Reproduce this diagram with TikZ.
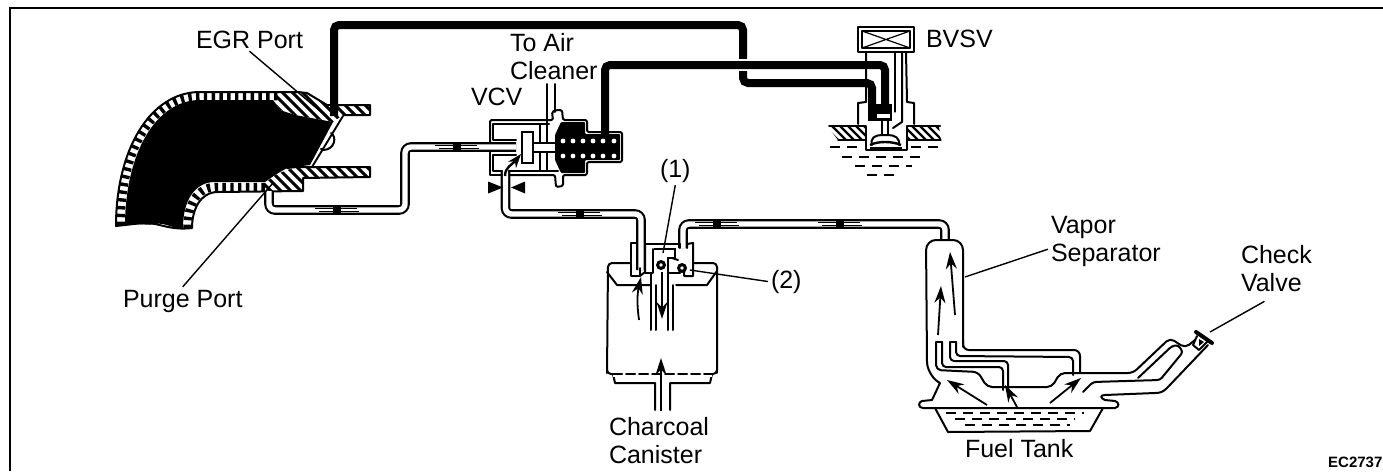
\documentclass[tikz,border=0pt]{standalone}
\usepackage{fontspec}
\setmainfont{Liberation Sans}
\usetikzlibrary{arrows.meta}
\tikzset{
  ln/.style={line width=2pt,line join=round,line cap=round},
  thin ln/.style={line width=1.2pt,line cap=round},
  leader/.style={line width=1.4pt},
  thick pipe/.style={line width=8pt,rounded corners=5pt},
  pipe/.style={draw=black,line width=2.1pt,double=white,double distance=5.4pt,rounded corners=6pt},
  lbl/.style={inner sep=0pt,outer sep=3pt,font=\fontsize{25}{28}\selectfont,align=left},
  flow/.style={line width=1.8pt,-{Stealth[length=17pt,width=11pt]}},
  liquid/.style={line width=1.6pt,dash pattern=on 10pt off 7pt},
  hatch wall/.style={line width=8.5pt,dash pattern=on 3.4pt off 4.4pt}
}
\newcommand{\pipeblip}[2]{%
  \fill (#1-4,#2-3.5) rectangle (#1+4,#2+3.5);
  \draw[line width=1pt] (#1-22,#2-1.8) -- (#1+20,#2-1.8);
  \draw[line width=1pt] (#1-18,#2+1.8) -- (#1+22,#2+1.8);
}
\newcommand{\hatchlines}[3]{%
  \foreach \hx in {#1,#2,...,#3} {\draw[line width=3pt] (\hx,80) -- +(130,130);}
}
\begin{document}
\begin{tikzpicture}[x=1pt,y=-1pt]
\useasboundingbox (0,0) rectangle (1383,471);
\fill[white] (0,0) rectangle (1383,471);
% frame
\draw[line width=1.8pt] (10,471) -- (10,8) -- (1383,8);

% ---------- Manifold / throttle body
\fill (125,226) .. controls (125,155) and (155,100) .. (200,100) -- (273,100) -- (280,110) -- (295,115) -- (333,122)
  -- (310,165) -- (287,168) -- (275,175) -- (265,182) -- (215,182)
  .. controls (195,182) and (183,200) .. (183,228)
  .. controls (172,229) and (165,222) .. (155,224) .. controls (145,226) and (135,222) .. (125,226) -- cycle;
\draw[hatch wall] (120.5,225) .. controls (120.5,150) and (152,96) .. (200,96) -- (278,96);
\draw[hatch wall] (187.5,228) .. controls (187.5,205) and (197,187) .. (216,187) -- (266,187);
\begin{scope}
  \clip (273,100) -- (280,91) -- (297,91) -- (307,93) -- (327,105) -- (370,105) -- (370,115) -- (343,115) -- (333,122) -- (295,115) -- (280,110) -- cycle;
  \hatchlines{60}{70}{340}
\end{scope}
\begin{scope}
  \clip (265,183) -- (275,175) -- (287,170) -- (297,167) -- (370,167) -- (370,177) -- (303,178) -- (303,191) -- (265,191) -- cycle;
  \hatchlines{60}{70}{340}
\end{scope}
\draw[ln] (116,226) .. controls (116,150) and (150,92) .. (200,92) -- (297,92) -- (307,93) -- (327,105) -- (370,105) -- (370,115) -- (343,115);
\draw[ln] (116,226) .. controls (135,224) and (145,222) .. (155,224) .. controls (165,226) and (175,230) .. (192,228)
  .. controls (192,210) and (200,192) .. (218,192) -- (303,191) -- (303,178) -- (370,177) -- (370,167) -- (297,167) -- (287,168);
\draw[line width=1.9pt] (343,116) -- (312,167);
\draw[ln] (331,133) .. controls (337,137) and (335,149) .. (324,150) -- (321,149);

% ---------- Vacuum hoses
\coordinate (egrtap) at (334,116);
\coordinate (bvsvA) at (872,116);
\coordinate (bvsvB) at (885,112);
\coordinate (vcvtop) at (605,134);
\draw[thick pipe] (egrtap) -- (334,25) -- (743,25) -- (743,83) -- (bvsvA |- 0,83) -- (bvsvA);
\draw[white,line width=12pt] (725,65) -- (760,65);
\draw[thick pipe] (vcvtop) -- (605,65) -- (bvsvB |- 0,65) -- (bvsvB);

\coordinate (purgetap) at (269,191);
\coordinate (vcvinlet) at (516,147);
\coordinate (vcvoutlet) at (505.5,170);
\coordinate (canA) at (641,270);
\coordinate (canB) at (683,248);
\coordinate (sepin) at (945,240);
\draw[pipe] (purgetap) -- (269,210) -- (405,210) -- (405,147) -- (vcvinlet);
\draw[pipe] (vcvoutlet) -- (505.5,214) -- (641,214) -- (canA);
\draw[pipe] (canB) -- (683,224) -- (945,224) -- (sepin);
\pipeblip{337}{210}
\pipeblip{457}{147}
\pipeblip{580}{214}
\pipeblip{717}{224}
\pipeblip{840}{224}

% ---------- VCV
\draw[ln,rounded corners=1.5pt] (490,143) -- (490,120) -- (553,120) -- (552,112) -- (556,110) -- (562,110) -- (563,120) -- (587,120) -- (587,132) -- (622,132) -- (622,162) -- (587,162) -- (587,175) -- (563,175) -- (563,186) -- (556,187) -- (555,175) -- (510,175);
\draw[ln] (501,175) -- (490,175) -- (490,152);
\draw[ln] (516,140) -- (493,140) -- (493,124) -- (549,124);
\draw[ln] (516,155) -- (493,155) -- (493,171) -- (501,171);
\draw[ln] (510,171) -- (558,171);
\draw[ln] (540,124) -- (540,171);
\draw[ln] (547,84) -- (547,171);
\draw[ln] (555,84) -- (555,112);
\fill[rounded corners=1pt] (555,135) -- (561,122) -- (585,122) -- (585,134) -- (620,134) -- (620,160) -- (585,160) -- (585,173) -- (561,173) -- (555,160) -- cycle;
\foreach \dx in {563,573,583,593,603,614} {\fill[white] (\dx,141) circle (2.4pt); \fill[white] (\dx,156) circle (2.4pt);}
\draw[ln,fill=white] (533,143) rectangle (556,152);
\draw[line width=2.4pt,fill=white] (522,132) rectangle (533,163);
\draw[line width=2.4pt,-{Stealth[length=14pt,width=10pt]}] (505,176) .. controls (505,167) and (512,165) .. (521,154);
\fill (488,181.5) -- (488,193.5) -- (503,187.5) -- cycle;
\fill (525,181.5) -- (525,193.5) -- (511,187.5) -- cycle;

% ---------- BVSV
\draw[ln] (858,27) rectangle (914,52);
\draw[ln] (862,31) rectangle (910,48);
\draw[thin ln] (862,31) -- (910,48) (862,48) -- (910,31);
\draw[ln] (866,52) -- (866,102) -- (858,103) -- (858,124);
\draw[ln] (906,52) -- (907,102) -- (914,103) -- (914,124);
\draw[thin ln] (895,52) -- (895,112);
\draw[ln] (902,52) -- (902,122) -- (893,128);
\fill (868,104) rectangle (892,121);
\fill[white] (877,114) rectangle (890,118);
\draw[ln] (829,126) -- (866,126) -- (866,150) -- (907,150) -- (907,126) -- (940,126);
\draw[thin ln] (838,140) -- (866,140);
\draw[thin ln] (907,140) -- (941,140);
\begin{scope}
  \clip (828,127) -- (865,127) -- (865,140) -- (838,140) -- cycle;
  \foreach \hx in {810,818,...,870} {\draw[line width=2.4pt] (\hx,120) -- +(25,25);}
\end{scope}
\begin{scope}
  \clip (908,127) -- (939,127) -- (941,140) -- (908,140) -- cycle;
  \foreach \hx in {890,898,...,945} {\draw[line width=2.4pt] (\hx,120) -- +(25,25);}
\end{scope}
\draw[ln] (882,121) -- (882,135);
\draw[ln] (888,121) -- (888,135);
\draw[ln,fill=white] (872,145) .. controls (870,138) and (875,135) .. (882,135) -- (888,135) .. controls (895,135) and (900,138) .. (899,145);
\draw[line width=2.4pt] (870,145) .. controls (878,141) and (892,141) .. (901,145);
\draw[line width=1.4pt] (870,148) -- (902,148);
\draw[liquid] (830,147) -- (860,147);
\draw[liquid] (911,147) -- (943,147);
\draw[liquid] (842,157) -- (925,157);
\draw[liquid] (855,166) -- (912,166);
\draw[liquid] (867,175) -- (900,175);

% ---------- Charcoal canister
\draw[ln,rounded corners=4pt] (631,263) -- (608,263) -- (607,374) -- (717,374) -- (717,263) -- (693,263);
\draw[ln] (607,272) -- (617,285) -- (650,285);
\draw[ln] (676,285) -- (707,285) -- (717,271);
\draw[ln] (613,374) -- (615,383) -- (655,383) -- (655,410);
\draw[ln] (670,410) -- (670,383) -- (710,383) -- (712,374);
\fill[white] (613,371) rectangle (712,377);
\draw[ln,dash pattern=on 9pt off 4pt] (613,374) -- (714,374);
\draw[ln] (607,360) -- (607,373);
\draw[ln] (717,360) -- (717,373);
% canister head
\draw[ln] (637,243) -- (631,243) -- (631,276) -- (640,276) -- (640,268);
\draw[ln] (645,244) -- (680,244);
\draw[ln] (645,244) -- (645,272) -- (640,276);
\draw[ln] (653,249) -- (653,273);
\draw[line width=2.4pt] (654,249) -- (675,249) -- (675,258) -- (668,258) -- (668,273);
\draw[ln] (645,273) -- (652,273);
\draw[ln] (668,273) -- (680,273);
\draw[ln] (680,244) -- (680,248);
\draw[ln] (687,248) -- (687,244) -- (693,243) -- (693,276) -- (684,276) -- (684,272);
\draw[ln] (672,258) -- (678,260);
\draw[line width=3pt,fill=white] (661,265) circle (3.4pt);
\draw[line width=3pt,fill=white] (682,268) circle (3.4pt);
\draw[ln] (651,273) -- (651,330);
\draw[ln] (656,285) -- (656,330);
\draw[ln] (668,273) -- (668,330);
\draw[ln] (673,285) -- (673,330);
\draw[flow] (662,272) -- (662,319);
\draw[flow] (639,320) .. controls (637,305) and (637,295) .. (641,277);
\draw[flow] (661,411) -- (661,358);

% ---------- Vapor separator and fuel tank
\draw[ln,rounded corners=10pt] (927,363) -- (926,240) -- (963,240) -- (963,347);
\draw[ln] (927,363) .. controls (928,372) and (934,380) .. (940,383) -- (932,400) -- (922,401) .. controls (918,402) and (918,408) .. (923,408) -- (1115,408) .. controls (1120,407) and (1119,402) .. (1115,401) -- (1105,400) .. controls (1100,398) and (1100,395) .. (1105,395) -- (1155,393) .. controls (1160,393) and (1163,392) .. (1167,388) -- (1208,345);
\draw[ln] (935,408) -- (948,432) -- (1090,431) -- (1103,408);
\draw[ln,rounded corners=5pt] (936,342) -- (936,370) -- (978,372) -- (987,387) -- (1052,387) -- (1060,373) -- (1133,373) -- (1170,338) -- (1185,348) -- (1195,340);
\draw[ln] (936,342) -- (942,342);
\draw[ln,rounded corners=4pt] (942,342) -- (942,367) -- (1003,367) -- (1003,390);
\draw[ln,rounded corners=4pt] (950,342) -- (950,361) -- (1008,361) -- (1008,390);
\draw[ln] (950,342) -- (956,342);
\draw[ln,rounded corners=4pt] (956,342) -- (956,356) -- (1073,357) -- (1073,375);
\draw[ln,rounded corners=6pt] (963,340) -- (963,350) -- (1080,350) -- (1080,373);
\draw[ln,rounded corners=3pt] (1083,392) -- (1093,382) -- (1160,380) -- (1183,352) -- (1178,345) -- (1172,346) -- (1138,378);
% filler cap
\draw[line width=4pt,line cap=round] (1196,332) -- (1212,343);
\draw[ln] (1197,336) -- (1193,345) -- (1199,350) -- (1208,341);
\fill (1199,339) -- (1204,342) -- (1199,346) -- cycle;
% flow arrows
\draw[flow] (938,335) -- (941,286);
\draw[flow] (955,315) -- (950,252);
\draw[flow] (987,405) -- (947,380);
\draw[flow] (1017,407) -- (1005,385);
\draw[flow] (1050,403) -- (1081,378);
\draw[liquid] (946,413) -- (1084,413);
\draw[liquid] (955,419) -- (1075,419);
\draw[liquid] (965,425) -- (1070,425);

% ---------- Labels
\node[lbl,anchor=base west] (egr) at (193,48) {EGR Port};
\node[lbl,anchor=base west] (purge) at (120,307) {Purge Port};
\node[lbl,anchor=base west] (vcv) at (468,105) {VCV};
\node[lbl,anchor=north west] (air) at (507,30) {To Air\\Cleaner};
\node[lbl,anchor=base west] (one) at (657,177) {(1)};
\node[lbl,anchor=base west] (two) at (768,288) {(2)};
\node[lbl,anchor=north west] (charcoal) at (606,414) {Charcoal\\Canister};
\node[lbl,anchor=base west] (bvsv) at (923,47) {BVSV};
\node[lbl,anchor=north west] (vapor) at (1048,213) {Vapor\\Separator};
\node[lbl,anchor=north west] (check) at (1238,242) {Check\\Valve};
\node[lbl,anchor=base west] (fuel) at (962,457) {Fuel Tank};
\node[inner sep=0pt,anchor=base west,font=\fontsize{15}{18}\bfseries\selectfont] (code) at (1328,467) {EC2737};

% ---------- Leaders
\coordinate (egrpt) at (333,122);
\coordinate (purgept) at (273,183);
\coordinate (onept) at (663,253);
\coordinate (twopt) at (690,270);
\coordinate (vappt) at (965,277);
\coordinate (chkpt) at (1210,332);
\draw[leader] (egr.south) -- (egrpt);
\draw[leader] (purge.north) -- (purgept);
\draw[leader] (one.south) -- (onept);
\draw[leader] (two.west) -- (717,274) -- (twopt);
\draw[leader] ([yshift=-8pt]vapor.west) -- (vappt);
\draw[leader] ([shift={(-12,7)}]check.south) -- (chkpt);
\end{tikzpicture}
\end{document}
